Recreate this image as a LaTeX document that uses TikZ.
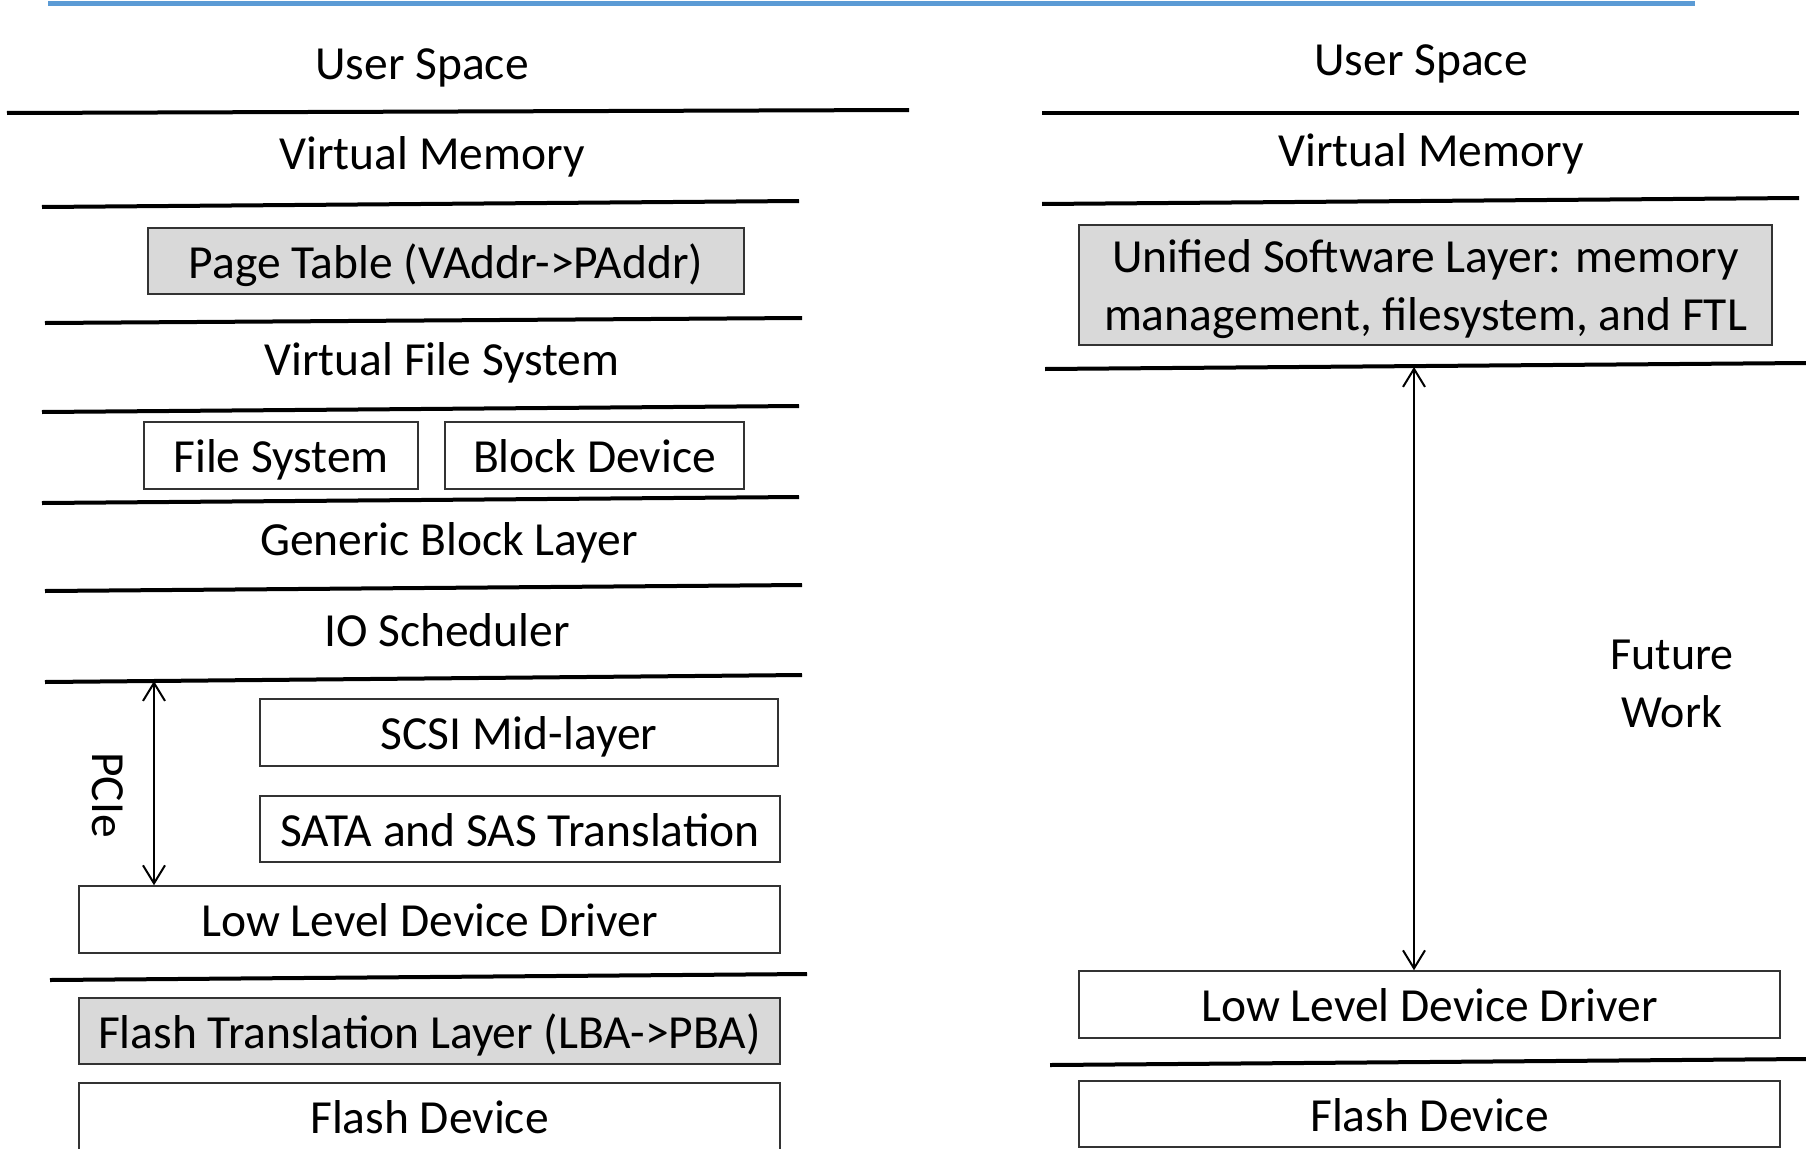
\documentclass[tikz,border=0pt]{standalone}
\usepackage{fontspec}
\setmainfont{Carlito}
\usetikzlibrary{arrows.meta}
\definecolor{blueline}{HTML}{5B9BD5}
\definecolor{boxgray}{HTML}{D9D9D9}
\definecolor{edge}{HTML}{333333}
\begin{document}
\begin{tikzpicture}[x=1pt,y=-1pt,
  sep/.style={line width=4pt, black},
  lbl/.style={inner sep=0pt, text height=34pt, text depth=0pt, font=\fontsize{47.5}{58}\selectfont},
  boxw/.style={lbl, draw=edge, line width=1.5pt, fill=white},
  boxg/.style={boxw, fill=boxgray},
  tip/.tip={Straight Barb[length=18pt,width=22pt]},
  arr/.style={line width=2pt, tip-tip}]
\useasboundingbox (0,0) rectangle (1806,1148);
\clip (0,0) rectangle (1806,1148);

% top blue rule
\draw[line width=5pt, blueline] (48,4) -- (1695,4);

% ---------------- left stack ----------------
\draw[sep] (7,113) -- (909,110);
\draw[sep] (42,207) -- (799,201);
\draw[sep] (45,323) -- (802,318);
\draw[sep] (42,412) -- (799,406);
\draw[sep] (42,503) -- (799,497);
\draw[sep] (45,591) -- (802,585);
\draw[sep] (45,682) -- (802,675);
\draw[sep] (50,980) -- (807,974);

\node[lbl] (lus) at (422,62) {User Space};
\node[lbl] (lvm) at (432,152) {Virtual Memory};
\node[boxg, minimum width=596pt, minimum height=66pt] (pt) at (446,261) {Page Table (VAddr->PAddr)};
\node[lbl] (vfs) at (442,358) {Virtual File System};
\node[boxw, minimum width=274pt, minimum height=67pt] (fs) at (281,455.5) {File System};
\node[boxw, minimum width=299pt, minimum height=67pt] (bd) at (594.5,455.5) {Block Device};
\node[lbl] (gbl) at (449,538) {Generic Block Layer};
\node[lbl] (ios) at (447,629) {IO Scheduler};
\node[boxw, minimum width=518pt, minimum height=67pt] (scsi) at (519,732.5) {SCSI Mid-layer};
\node[boxw, minimum width=520pt, minimum height=66pt] (sata) at (520,829) {SATA and SAS Translation};
\node[boxw, minimum width=701pt, minimum height=67pt] (lldd) at (429.5,919.5) {Low Level Device Driver};
\node[boxg, minimum width=701pt, minimum height=66pt] (ftl) at (429.5,1031) {Flash Translation Layer (LBA->PBA)};
\node[boxw, minimum width=701pt, minimum height=67pt] (flash) at (429.5,1116.5) {Flash Device};

\node[lbl, rotate=-90] (pcie) at (109,795) {PCIe};
\coordinate (pcitop) at (154,681);
\draw[arr] (pcitop) -- (pcitop |- lldd.north);

% ---------------- right stack ----------------
\draw[sep] (1042,113) -- (1799,113);
\draw[sep] (1042,204) -- (1799,198);
\draw[sep] (1045,369) -- (1806,363);
\draw[sep] (1050,1065) -- (1806,1059);

\node[lbl] (rus) at (1421,58) {User Space};
\node[lbl] (rvm) at (1431,149) {Virtual Memory};
\node[draw=edge, line width=1.5pt, fill=boxgray, minimum width=693pt, minimum height=120pt] (usl) at (1425.5,285) {};
\node[inner sep=0pt, align=center, font=\fontsize{47.5}{58}\selectfont] (usltext) at (1425.5,289)
      {Unified Software Layer: memory\\management, filesystem, and FTL};
\node[boxw, minimum width=701pt, minimum height=67pt] (rlldd) at (1429.5,1004.5) {Low Level Device Driver};
\node[boxw, minimum width=701pt, minimum height=66pt] (rflash) at (1429.5,1114) {Flash Device};

\coordinate (fwtop) at (1414,367);
\draw[arr] (fwtop) -- (fwtop |- rlldd.north);

\node[inner sep=0pt, align=center, font=\fontsize{46}{58}\selectfont] (fw) at (1672,684) {Future\\Work};
\end{tikzpicture}
\end{document}
